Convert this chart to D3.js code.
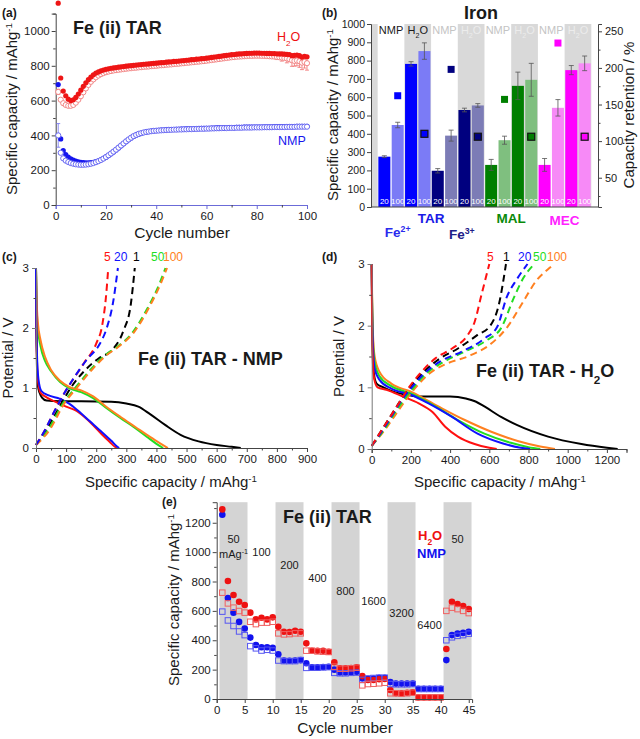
<!DOCTYPE html>
<html><head><meta charset="utf-8">
<script src="https://cdn.jsdelivr.net/npm/d3@7/dist/d3.min.js"></script>
<style>body{margin:0;background:#fff}svg{display:block}</style>
</head><body><svg id="chart" width="640" height="739"></svg>
<script>
// ---------------- DATA ----------------
// Panel (a): cycling, 100 cycles
const aCycles = d3.range(1, 101);
const aH2OCharge = [1160,730,655,628,608,600,605,618,638,660,682,702,720,735,748,758,765,771,776,780,783,786,788,790,792,794,796,798,800,801,803,804,806,807,809,810,811,813,814,815,817,818,819,821,822,823,825,826,827,829,830,832,833,835,836,838,839,841,842,844,846,848,850,852,854,856,858,860,862,864,865,867,868,869,870,871,872,872,873,873,873,872,872,871,871,870,870,869,868,868,867,866,865,858,860,862,858,850,855,852];
const aH2ODischarge = [650,605,585,575,570,570,575,588,605,625,648,670,690,708,722,734,744,752,758,763,767,770,773,775,777,779,781,783,785,786,788,789,791,792,794,795,796,798,799,800,802,803,804,806,807,808,810,811,812,814,815,817,818,820,821,823,824,826,827,829,831,833,835,837,839,841,843,845,847,849,850,852,853,854,855,856,857,857,858,858,858,857,857,856,855,854,853,851,849,847,845,842,838,832,828,830,826,818,822,815];
const aNMPCharge = [692,380,312,290,275,265,258,252,248,245,243,242,242,243,245,249,254,260,267,275,284,294,305,316,328,340,352,364,375,385,394,401,407,412,416,419,422,424,426,428,429,430,431,432,433,434,434,435,435,436,436,437,437,438,438,439,439,440,440,441,441,442,442,443,443,444,444,444,445,445,445,446,446,446,447,447,447,447,448,448,448,448,449,449,449,449,450,450,450,450,450,451,451,451,451,452,452,452,452,452];
const aNMPDischarge = [400,300,268,255,247,241,237,234,232,231,231,232,234,237,241,246,252,259,267,276,286,296,307,318,330,342,354,366,377,387,396,403,409,413,417,420,422,424,426,427,428,429,430,431,432,432,433,433,434,434,435,435,436,436,437,437,438,438,438,439,439,440,440,441,441,442,442,442,443,443,443,444,444,444,445,445,445,445,446,446,446,446,447,447,447,447,448,448,448,448,448,449,449,449,449,450,450,450,450,450];
const aH2OErr = [[1,15],[88,15],[90,20],[92,25],[94,35],[95,30],[96,30],[97,35],[98,40],[99,35],[100,40]];
const aNMPErr = [[1,68]];

// Panel (b): bars
const bCycleLabels = ["20","100","20","100","20","100","20","100","20","100","20","100","20","100","20","100"];
const bValues = [275,448,782,852,198,390,530,555,230,365,662,695,230,542,748,785];
const bErrors = [5,15,12,45,12,30,10,10,30,22,75,90,35,45,25,40];
const bRetention = [162,110,198,106,157,106,234,106];
const bSolvents = ["NMP","H2O","NMP","H2O","NMP","H2O","NMP","H2O"];

// Panel (c): Fe(ii) TAR - NMP, [capacity, potential]
const cDis1 = [[0,3],[1,2.3],[3,1.4],[6,1.05],[12,0.92],[20,0.84],[35,0.79],[80,0.78],[150,0.78],[250,0.77],[300,0.74],[340,0.69],[380,0.56],[430,0.38],[480,0.22],[540,0.11],[600,0.05],[650,0.02],[680,0]];
const cDis5 = [[0,3],[1,2.1],[3,1.5],[7,1.1],[15,0.92],[30,0.86],[60,0.78],[100,0.69],[130,0.63],[160,0.52],[190,0.38],[220,0.22],[245,0.1],[262,0.02],[268,0]];
const cDis20 = [[0,3],[1,2.2],[3,1.6],[8,1.15],[18,0.95],[40,0.88],[80,0.82],[110,0.74],[140,0.62],[180,0.44],[220,0.26],[250,0.12],[268,0.03],[276,0]];
const cDis50 = [[0,3],[2,2.4],[6,2.0],[15,1.7],[30,1.45],[50,1.28],[80,1.1],[110,1.0],[150,0.93],[190,0.83],[230,0.68],[280,0.5],[330,0.33],[370,0.18],[400,0.07],[422,0]];
const cDis100 = [[0,3],[2,2.5],[6,2.1],[15,1.8],[30,1.52],[50,1.3],[80,1.12],[110,1.02],[150,0.96],[190,0.86],[230,0.7],[280,0.52],[330,0.35],[380,0.18],[415,0.07],[438,0]];
const cCh1 = [[0,0.05],[40,0.35],[80,0.7],[115,1.0],[160,1.28],[210,1.5],[250,1.62],[290,1.95],[315,2.4],[328,3.0]];
const cCh5 = [[0,0.05],[30,0.3],[60,0.6],[90,0.88],[120,1.12],[160,1.42],[200,1.74],[220,2.05],[232,2.5],[240,3.0]];
const cCh20 = [[0,0.05],[30,0.3],[60,0.6],[95,0.92],[130,1.2],[170,1.48],[210,1.72],[235,2.0],[255,2.4],[272,3.0]];
const cCh50 = [[0,0.05],[40,0.3],[90,0.75],[130,1.0],[180,1.3],[230,1.55],[268,1.68],[323,1.94],[367,2.3],[411,2.75],[430,3.0]];
const cCh100 = [[0,0.05],[45,0.3],[95,0.75],[135,1.0],[185,1.3],[235,1.55],[272,1.68],[327,1.94],[371,2.3],[415,2.75],[435,3.0]];

// Panel (d): Fe(ii) TAR - H2O
const dDis1 = [[0,3],[2,2.2],[5,1.6],[12,1.2],[25,1.06],[60,1.0],[110,0.93],[175,0.88],[250,0.85],[400,0.85],[480,0.82],[530,0.77],[575,0.69],[660,0.52],[740,0.39],[900,0.2],[1070,0.08],[1200,0.02],[1255,0]];
const dDis5 = [[0,3],[2,2.0],[5,1.5],[12,1.15],[30,1.0],[75,0.96],[160,0.85],[240,0.74],[310,0.6],[375,0.36],[440,0.2],[525,0.08],[600,0.02],[638,0]];
const dDis20 = [[0,3],[2,2.3],[6,1.7],[15,1.3],[40,1.12],[100,0.98],[200,0.88],[290,0.74],[410,0.52],[540,0.25],[670,0.09],[760,0.02],[808,0]];
const dDis50 = [[0,3],[2,2.4],[6,1.8],[15,1.4],[40,1.18],[100,1.02],[200,0.9],[325,0.69],[440,0.47],[575,0.25],[710,0.1],[800,0.03],[860,0]];
const dDis100 = [[0,3],[2,2.5],[6,1.9],[15,1.5],[40,1.25],[100,1.06],[200,0.93],[340,0.69],[475,0.47],[610,0.28],[745,0.13],[860,0.04],[935,0]];
const dCh1 = [[0,0.05],[50,0.3],[100,0.55],[150,0.8],[195,1.0],[250,1.2],[340,1.45],[440,1.63],[540,1.85],[605,2.0],[650,2.36],[685,3.0]];
const dCh5 = [[0,0.05],[50,0.3],[100,0.55],[150,0.8],[190,1.0],[240,1.2],[325,1.47],[410,1.63],[490,1.85],[525,2.06],[560,2.5],[600,3.0]];
const dCh20 = [[0,0.05],[55,0.3],[105,0.55],[155,0.8],[205,1.0],[260,1.2],[350,1.42],[460,1.58],[575,1.79],[640,1.98],[690,2.47],[740,2.75],[795,3.0]];
const dCh50 = [[0,0.05],[60,0.3],[110,0.55],[165,0.8],[215,1.0],[270,1.2],[360,1.4],[475,1.58],[590,1.77],[660,1.96],[725,2.45],[775,2.78],[830,3.0]];
const dCh100 = [[0,0.05],[65,0.3],[120,0.55],[175,0.8],[225,1.0],[285,1.2],[380,1.38],[490,1.5],[610,1.71],[690,1.97],[775,2.4],[840,2.73],[905,2.93],[930,3.0]];

// Panel (e): rate capability, 45 cycles
const eCycles = d3.range(1, 46);
const eH2OCharge = [1291,803,708,662,640,588,542,553,542,556,492,458,456,465,458,379,329,329,329,322,250,209,209,211,215,156,129,129,134,136,61,39,39,43,45,11,11,11,11,11,340,662,647,633,613];
const eH2ODischarge = [724,651,622,599,588,526,510,520,520,526,447,440,442,447,447,329,329,324,322,320,220,206,206,209,213,93,102,104,107,111,39,39,36,39,43,11,11,11,11,11,600,622,612,600,585];
const eNMPCharge = [1255,688,588,525,480,418,368,352,352,348,305,262,260,262,265,243,215,215,218,220,200,180,180,182,185,140,135,140,145,145,115,105,105,105,105,70,70,70,70,70,265,435,445,450,458];
const eNMPDischarge = [595,535,497,460,435,360,345,330,335,330,262,258,258,258,265,212,213,213,215,217,178,175,175,178,180,130,140,143,145,145,102,100,100,100,102,68,68,68,68,68,400,420,430,435,445];
const eRateLabels = ["50","100","200","400","800","1600","3200","6400","50"];
const eRateCycles = [3,8,13,18,23,28,33,38,43];
const eRateLevels = [1060,975,885,800,710,640,560,480,1060];
const eBands = [[0.5,5.5],[10.5,15.5],[20.5,25.5],[30.5,35.5],[40.5,45.5]];

// ---------------- HELPERS ----------------
const FONT = 'Arial, "Liberation Sans", Helvetica, sans-serif';
const svg = d3.select('#chart');
const AX = '#444';
const fmt = d3.format('d');

function rich(g, x, y, parts, o = {}) {
  const size = o.size || 12;
  const t = g.append('text').attr('x', x).attr('y', y)
    .attr('font-family', FONT).attr('font-size', size)
    .attr('font-weight', o.weight || 'normal').attr('fill', o.fill || '#1a1a1a')
    .attr('text-anchor', o.anchor || 'start');
  if (o.rotate) t.attr('transform', `rotate(${o.rotate},${x},${y})`);
  parts.forEach(p => {
    const s = t.append('tspan').text(p[0]);
    if (p[1] === 'sup') s.attr('baseline-shift', 'super').attr('font-size', size * 0.65);
    if (p[1] === 'sub') s.attr('baseline-shift', 'sub').attr('font-size', size * 0.65);
  });
  return t;
}
function styleAxis(a, color, fs) {
  a.select('.domain').attr('stroke', color || AX).attr('stroke-width', 1);
  a.selectAll('.tick line').attr('stroke', color || AX);
  a.selectAll('.tick text').attr('font-size', fs || 11).attr('fill', '#1a1a1a').attr('font-family', FONT);
  return a;
}
function minor(g, gen, vals, transform) {
  const a = g.append('g').attr('transform', transform).call(gen.tickValues(vals).tickSize(2.5).tickFormat(''));
  a.select('.domain').remove();
  a.selectAll('line').attr('stroke', AX);
}
const specLabel = [['Specific capacity / mAhg'], ['-1', 'sup']];

// ---------------- PANEL (a) ----------------
(function () {
  const g = svg.append('g');
  const x = d3.scaleLinear().domain([0, 100]).range([55.7, 307]);
  const y = d3.scaleLinear().domain([0, 1100]).range([205, 13.6]);
  styleAxis(g.append('g').attr('transform', 'translate(0,205)')
    .call(d3.axisBottom(x).tickValues([0, 20, 40, 60, 80, 100]).tickFormat(fmt).tickSize(4).tickPadding(3)), '#6b6bd8', 11.5);
  minor(g, d3.axisBottom(x), [10, 30, 50, 70, 90], 'translate(0,205)');
  styleAxis(g.append('g').attr('transform', 'translate(55.7,0)')
    .call(d3.axisLeft(y).tickValues([0, 200, 400, 600, 800, 1000]).tickFormat(fmt).tickSize(4).tickPadding(2)), AX, 11.5);
  minor(g, d3.axisLeft(y), [100, 300, 500, 700, 900, 1100], 'translate(55.7,0)');

  function errs(list, vals, color) {
    list.forEach(([c, e]) => {
      const v = vals[c - 1];
      g.append('line').attr('x1', x(c)).attr('x2', x(c)).attr('y1', y(v - e)).attr('y2', y(v + e)).attr('stroke', color).attr('stroke-width', 0.8);
      [v - e, v + e].forEach(w => g.append('line').attr('x1', x(c) - 2).attr('x2', x(c) + 2).attr('y1', y(w)).attr('y2', y(w)).attr('stroke', color).attr('stroke-width', 0.8));
    });
  }
  errs(aH2OErr, aH2ODischarge, '#f07070');
  errs(aNMPErr, aNMPDischarge, '#7070f0');

  const r = 2.6;
  g.append('g').selectAll('circle').data(aNMPCharge).join('circle')
    .attr('cx', (d, i) => x(aCycles[i])).attr('cy', d => y(d)).attr('r', r).attr('fill', '#1515ee');
  g.append('g').selectAll('circle').data(aNMPDischarge).join('circle')
    .attr('cx', (d, i) => x(aCycles[i])).attr('cy', d => y(d)).attr('r', r).attr('fill', '#fff').attr('stroke', '#5a5af0').attr('stroke-width', 0.9);
  g.append('g').selectAll('circle').data(aH2ODischarge).join('circle')
    .attr('cx', (d, i) => x(aCycles[i])).attr('cy', d => y(d)).attr('r', r).attr('fill', '#fff').attr('stroke', '#f07a7a').attr('stroke-width', 0.9);
  g.append('g').selectAll('circle').data(aH2OCharge).join('circle')
    .attr('cx', (d, i) => x(aCycles[i])).attr('cy', d => y(d)).attr('r', r).attr('fill', '#ee1515');

  rich(g, 2, 17, [['(a)']], { size: 12, weight: 'bold' });
  rich(g, 73, 34, [['Fe (ii) TAR']], { size: 18, weight: 'bold' });
  rich(g, 277, 41, [['H'], ['2', 'sub'], ['O']], { size: 12.5, fill: '#ee1111' });
  rich(g, 278, 145, [['NMP']], { size: 12.5, fill: '#1515ee' });
  rich(g, 17, 109, specLabel, { size: 15, anchor: 'middle', rotate: -90 });
  rich(g, 182, 238, [['Cycle number']], { size: 15.5, anchor: 'middle' });
})();

// ---------------- PANEL (b) ----------------
(function () {
  const g = svg.append('g');
  const x = d3.scaleLinear().domain([0, 17]).range([371, 598]);
  const y = d3.scaleLinear().domain([0, 1000]).range([207, 24]);
  const yr = d3.scaleLinear().domain([10, 260]).range([207, 24]);
  const groupColor = ['#0000ff', '#00007f', '#007f00', '#ff00ff'];
  const lightColor = ['#7b7bf6', '#7c7cb6', '#7fbf7f', '#f78af7'];

  [[0, 0.5], [2.5, 4.5], [6.5, 8.5], [10.5, 12.5], [14.5, 16.5]].forEach(([a, b]) =>
    g.append('rect').attr('x', x(a)).attr('y', 24).attr('width', x(b) - x(a)).attr('height', 183).attr('fill', '#d9d9d9'));

  bSolvents.forEach((s, i) => {
    const cx = x(1.5 + 2 * i);
    const col = i < 2 ? '#1a1a1a' : (i % 2 ? '#ececec' : '#c4c4c4');
    const parts = s === 'H2O' ? [['H'], ['2', 'sub'], ['O']] : [['NMP']];
    rich(g, cx, 34, parts, { size: 11, anchor: 'middle', fill: col });
  });

  const bw = x(0.9) - x(0);
  g.append('g').selectAll('rect').data(bValues).join('rect')
    .attr('x', (d, i) => x(i + 1) - bw / 2).attr('y', d => y(d)).attr('width', bw).attr('height', d => y(0) - y(d))
    .attr('fill', (d, i) => (i % 2 ? lightColor : groupColor)[Math.floor(i / 4)]);
  bValues.forEach((v, i) => {
    const e = bErrors[i], cx = x(i + 1);
    const col = '#555';
    g.append('line').attr('x1', cx).attr('x2', cx).attr('y1', y(v - e)).attr('y2', y(v + e)).attr('stroke', col).attr('stroke-width', 0.8);
    [v - e, v + e].forEach(w => g.append('line').attr('x1', cx - 2.5).attr('x2', cx + 2.5).attr('y1', y(w)).attr('y2', y(w)).attr('stroke', col).attr('stroke-width', 0.8));
  });
  g.append('g').selectAll('text').data(bCycleLabels).join('text')
    .attr('x', (d, i) => x(i + 1)).attr('y', 204).attr('text-anchor', 'middle')
    .attr('font-family', FONT).attr('font-size', 8).attr('fill', '#fff').text(d => d);

  const sq = 7;
  g.append('g').selectAll('rect').data(bRetention).join('rect')
    .attr('x', (d, i) => x(2 + 2 * i) - sq / 2).attr('y', d => yr(d) - sq / 2).attr('width', sq).attr('height', sq)
    .attr('fill', (d, i) => groupColor[Math.floor(i / 2)])
    .attr('stroke', (d, i) => i % 2 ? '#111' : 'none').attr('stroke-width', 1.2);

  styleAxis(g.append('g').attr('transform', 'translate(371,0)')
    .call(d3.axisLeft(y).tickValues(d3.range(0, 1001, 100)).tickFormat(fmt).tickSize(4).tickPadding(2)), AX, 10.5);
  styleAxis(g.append('g').attr('transform', 'translate(598,0)')
    .call(d3.axisRight(yr).tickValues([50, 100, 150, 200, 250]).tickFormat(fmt).tickSize(4).tickPadding(3)), AX, 11);
  minor(g, d3.axisRight(yr), [25, 75, 125, 175, 225], 'translate(598,0)');
  g.append('line').attr('x1', 371).attr('x2', 598).attr('y1', 207).attr('y2', 207).attr('stroke', AX);

  rich(g, 322, 17, [['(b)']], { size: 12, weight: 'bold' });
  rich(g, 481, 19, [['Iron']], { size: 18, weight: 'bold', anchor: 'middle' });
  rich(g, 338, 115, specLabel, { size: 15, anchor: 'middle', rotate: -90 });
  rich(g, 634, 115, [['Capacity retention / %']], { size: 15, anchor: 'middle', rotate: -90 });
  rich(g, x(4.5), 223, [['TAR']], { size: 13.5, weight: 'bold', anchor: 'middle', fill: '#1a1ae6' });
  rich(g, x(10.5), 223, [['MAL']], { size: 13.5, weight: 'bold', anchor: 'middle', fill: '#0a8a0a' });
  rich(g, x(14.5), 225, [['MEC']], { size: 13.5, weight: 'bold', anchor: 'middle', fill: '#ff22ff' });
  rich(g, x(2.0), 237, [['Fe'], ['2+', 'sup']], { size: 13.5, weight: 'bold', anchor: 'middle', fill: '#2a2aee' });
  rich(g, x(6.8), 239, [['Fe'], ['3+', 'sup']], { size: 13.5, weight: 'bold', anchor: 'middle', fill: '#202088' });
})();

// ---------------- PANELS (c) and (d) ----------------
const curveColors = { c1: '#000000', c5: '#ff1010', c20: '#1010ff', c50: '#22dd22', c100: '#ff8020' };
function gcdPanel(opt) {
  const g = svg.append('g');
  const x = d3.scaleLinear().domain(opt.xDomain).range(opt.xRange);
  const y = d3.scaleLinear().domain([0, 3]).range(opt.yRange);
  const line = d3.line().x(d => x(d[0])).y(d => y(d[1])).curve(d3.curveMonotoneX);
  opt.series.forEach(s => {
    g.append('path').attr('d', line(s.data)).attr('fill', 'none').attr('stroke', s.color)
      .attr('stroke-width', 2).attr('stroke-dasharray', s.dash ? '7,4.5' : null);
  });
  styleAxis(g.append('g').attr('transform', `translate(0,${opt.yRange[0]})`)
    .call(d3.axisBottom(x).tickValues(opt.xTicks).tickFormat(fmt).tickSize(4).tickPadding(3)), AX, 11.5);
  minor(g, d3.axisBottom(x), opt.xMinor, `translate(0,${opt.yRange[0]})`);
  styleAxis(g.append('g').attr('transform', `translate(${opt.xRange[0]},0)`)
    .call(d3.axisLeft(y).tickValues([0, 1, 2, 3]).tickFormat(fmt).tickSize(4).tickPadding(3)), '#777', 11.5);
  minor(g, d3.axisLeft(y), [0.5, 1.5, 2.5], `translate(${opt.xRange[0]},0)`);
  opt.legend.forEach(l => rich(g, l.x, 261, [[l.t]], { size: 12, fill: l.color }));
  rich(g, opt.tag[0], opt.tag[1], [[opt.tagText]], { size: 12, weight: 'bold' });
  rich(g, opt.title[0], opt.title[1], opt.titleParts, { size: 18, weight: 'bold' });
  rich(g, opt.yLab, (opt.yRange[0] + opt.yRange[1]) / 2, [['Potential / V']], { size: 15, anchor: 'middle', rotate: -90 });
  rich(g, opt.xLab, 487, specLabel, { size: 15, anchor: 'middle' });
}
gcdPanel({
  xDomain: [0, 900], xRange: [36, 307], yRange: [448, 268],
  xTicks: d3.range(0, 901, 100), xMinor: d3.range(50, 900, 100),
  series: [
    { data: cDis1, color: curveColors.c1 }, { data: cDis50, color: curveColors.c50 }, { data: cDis100, color: curveColors.c100 },
    { data: cDis5, color: curveColors.c5 }, { data: cDis20, color: curveColors.c20 },
    { data: cCh1, color: curveColors.c1, dash: 1 }, { data: cCh50, color: curveColors.c50, dash: 1 }, { data: cCh100, color: curveColors.c100, dash: 1 },
    { data: cCh5, color: curveColors.c5, dash: 1 }, { data: cCh20, color: curveColors.c20, dash: 1 }
  ],
  legend: [{ t: '5', x: 104, color: '#ff1010' }, { t: '20', x: 114, color: '#1010ff' }, { t: '1', x: 133, color: '#000' },
  { t: '50', x: 151, color: '#22dd22' }, { t: '100', x: 163, color: '#ff8020' }],
  tag: [2, 261], tagText: '(c)', title: [138, 365], titleParts: [['Fe (ii) TAR - NMP']], yLab: 13, xLab: 171
});
gcdPanel({
  xDomain: [0, 1300], xRange: [371.7, 626.5], yRange: [449, 264],
  xTicks: d3.range(0, 1201, 200), xMinor: d3.range(100, 1301, 200),
  series: [
    { data: dDis1, color: curveColors.c1 }, { data: dDis100, color: curveColors.c100 }, { data: dDis50, color: curveColors.c50 },
    { data: dDis20, color: curveColors.c20 }, { data: dDis5, color: curveColors.c5 },
    { data: dCh1, color: curveColors.c1, dash: 1 }, { data: dCh100, color: curveColors.c100, dash: 1 }, { data: dCh50, color: curveColors.c50, dash: 1 },
    { data: dCh20, color: curveColors.c20, dash: 1 }, { data: dCh5, color: curveColors.c5, dash: 1 }
  ],
  legend: [{ t: '5', x: 487, color: '#ff1010' }, { t: '1', x: 503, color: '#000' }, { t: '20', x: 518, color: '#1010ff' },
  { t: '50', x: 533, color: '#22dd22' }, { t: '100', x: 547, color: '#ff8020' }],
  tag: [322, 261], tagText: '(d)', title: [476, 377], titleParts: [['Fe (ii) TAR - H'], ['2', 'sub'], ['O']], yLab: 344, xLab: 500
});

// ---------------- PANEL (e) ----------------
(function () {
  const g = svg.append('g');
  const x = d3.scaleLinear().domain([0, 45.6]).range([216.7, 472.1]);
  const y = d3.scaleLinear().domain([0, 1340]).range([699, 502.2]);
  eBands.forEach(([a, b]) => g.append('rect').attr('x', x(a)).attr('y', y(1340)).attr('width', x(b) - x(a)).attr('height', y(0) - y(1340)).attr('fill', '#d4d4d4'));

  eRateLabels.forEach((t, i) => rich(g, x(eRateCycles[i]), y(eRateLevels[i]), [[t]], { size: 11, anchor: 'middle' }));
  rich(g, x(3), y(960), [['mAg'], ['-1', 'sup']], { size: 11, anchor: 'middle' });

  const r = 3.3, s = 5.5;
  g.append('g').selectAll('circle').data(eNMPCharge).join('circle')
    .attr('cx', (d, i) => x(eCycles[i])).attr('cy', d => y(d)).attr('r', r).attr('fill', '#1212ee');
  g.append('g').selectAll('circle').data(eH2OCharge).join('circle')
    .attr('cx', (d, i) => x(eCycles[i])).attr('cy', d => y(d)).attr('r', r).attr('fill', '#ee1212');
  g.append('g').selectAll('rect').data(eNMPDischarge).join('rect')
    .attr('x', (d, i) => x(eCycles[i]) - s / 2).attr('y', d => y(d) - s / 2).attr('width', s).attr('height', s)
    .attr('fill', 'none').attr('stroke', '#5555f2').attr('stroke-width', 1);
  g.append('g').selectAll('rect').data(eH2ODischarge).join('rect')
    .attr('x', (d, i) => x(eCycles[i]) - s / 2).attr('y', d => y(d) - s / 2).attr('width', s).attr('height', s)
    .attr('fill', 'none').attr('stroke', '#f06060').attr('stroke-width', 1);

  styleAxis(g.append('g').attr('transform', 'translate(0,699)')
    .call(d3.axisBottom(x).tickValues(d3.range(0, 46, 5)).tickFormat(fmt).tickSize(4).tickPadding(3)), AX, 11.5);
  styleAxis(g.append('g').attr('transform', 'translate(216.7,0)')
    .call(d3.axisLeft(y).tickValues(d3.range(0, 1201, 200)).tickFormat(fmt).tickSize(4).tickPadding(2)), AX, 11.5);
  minor(g, d3.axisLeft(y), d3.range(100, 1301, 200), 'translate(216.7,0)');

  rich(g, 162, 506, [['(e)']], { size: 12, weight: 'bold' });
  rich(g, 283, 523, [['Fe (ii) TAR']], { size: 18, weight: 'bold' });
  rich(g, 418, 540, [['H'], ['2', 'sub'], ['O']], { size: 13, weight: 'bold', fill: '#ee1111' });
  rich(g, 417, 558, [['NMP']], { size: 13, weight: 'bold', fill: '#1212ee' });
  rich(g, 179, 600, specLabel, { size: 15, anchor: 'middle', rotate: -90 });
  rich(g, 345, 733, [['Cycle number']], { size: 15.5, anchor: 'middle' });
})();
</script></body></html>
